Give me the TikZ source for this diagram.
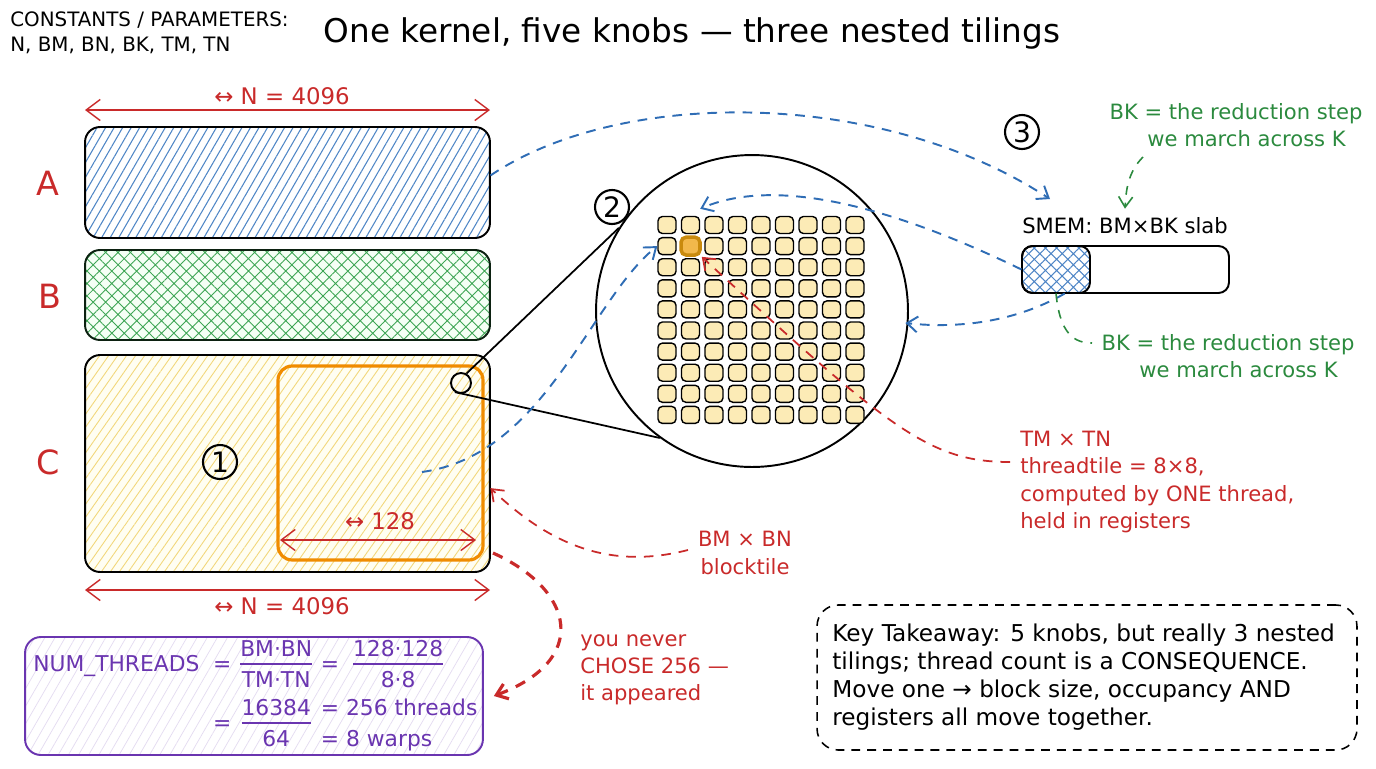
\documentclass[tikz,border=0pt]{standalone}
\usepackage{fontspec}
\setmainfont{DejaVu Sans}
\usetikzlibrary{arrows.meta,patterns.meta,positioning}
\definecolor{ablue}{HTML}{2F6DB5}
\definecolor{hblue}{HTML}{4F86C6}
\definecolor{bgreen}{HTML}{3DA554}
\definecolor{tgreen}{HTML}{2B8A3E}
\definecolor{kred}{HTML}{C92A2A}
\definecolor{korange}{HTML}{F08C00}
\definecolor{hyel}{HTML}{F2D77A}
\definecolor{cellyel}{HTML}{FCEBB6}
\definecolor{hotfill}{HTML}{F2B84B}
\definecolor{hotedge}{HTML}{C98A0D}
\definecolor{kpurple}{HTML}{6A35B0}
\newcommand{\fr}[2]{\begin{tabular}{@{}c@{}}#1\\[-1pt]\hline\rule{0pt}{13pt}#2\end{tabular}}
\begin{document}
\begin{tikzpicture}[x=0.02cm, y=-0.02cm, every node/.style={align=center, inner sep=0pt}]
\tikzset{
  matbox/.style={draw=black, line width=1.1pt, rounded corners=8.5pt, minimum width=8.1cm},
  numcirc/.style={draw, circle, line width=1.2pt, minimum size=0.68cm, font=\fontsize{16}{18}\selectfont},
  cell/.style={draw=black, line width=0.8pt, fill=cellyel, rounded corners=2.5pt, minimum width=0.36cm, minimum height=0.34cm},
  hotbox/.style={draw=hotedge, line width=2pt, fill=hotfill, rounded corners=3pt, minimum width=0.38cm, minimum height=0.36cm},
  matlbl/.style={text=kred, font=\fontsize{19}{22}\selectfont},
  dimarr/.style={kred, line width=0.8pt, {Straight Barb[length=8pt,width=12pt]}-{Straight Barb[length=8pt,width=12pt]}},
  dimlbl/.style={text=kred, font=\fontsize{13}{15}\selectfont},
  flowarr/.style={ablue, line width=1.1pt, dash pattern=on 5.5pt off 4.5pt, -{Straight Barb[length=6pt,width=9pt]}},
  notearr/.style={kred, line width=1pt, dash pattern=on 5.5pt off 4.5pt, -{Straight Barb[length=6pt,width=9pt]}},
  greenarr/.style={tgreen, line width=0.9pt, dash pattern=on 5pt off 4.5pt},
  note/.style={font=\fontsize{12}{15.5}\selectfont},
  smalltxt/.style={align=left, font=\fontsize{11.3}{14.5}\selectfont}
}
\useasboundingbox (0,0) rectangle (1376,768);

% Header
\node[smalltxt, anchor=west] (consts) at (10,33) {CONSTANTS / PARAMETERS:\\N, BM, BN, BK, TM, TN};
\node[font=\fontsize{18.6}{22}\selectfont] (title) at (692,33) {One kernel, five knobs — three nested tilings};

% Matrices A, B, C
\node[matbox, minimum height=2.22cm, preaction={fill=white}, pattern={Lines[angle=60,distance=4.2pt,line width=0.6pt]}, pattern color=hblue] (A) at (287.5,182.5) {};
\node[matbox, draw=black!80!bgreen, minimum height=1.8cm, preaction={fill=green!4}, pattern={Hatch[angle=45,distance=5pt,line width=0.5pt]}, pattern color=bgreen] (B) at (287.5,295) {};
\node[matbox, minimum height=4.34cm, preaction={fill=yellow!5}, pattern={Lines[angle=55,distance=4.2pt,line width=0.5pt]}, pattern color=hyel] (C) at (287.5,463.5) {};
\node[draw=korange, line width=1.8pt, rounded corners=8pt, minimum width=4.1cm, minimum height=3.88cm] (blk) at (380.5,463) {};

\node[matlbl] (lblA) at (48,183) {A};
\node[matlbl] (lblB) at (50,296) {B};
\node[matlbl] (lblC) at (48,462) {C};
\node[numcirc] (n1) at (220,462) {1};

% Dimensions
\coordinate (dtl) at (85,110);
\coordinate (dtr) at (490,110);
\draw[dimarr] (dtl) -- (dtr);
\node[dimlbl] (dimtop) at (282,96) {↔ N = 4096};
\coordinate (dbl) at (85,590);
\coordinate (dbr) at (490,590);
\draw[dimarr] (dbl) -- (dbr);
\node[dimlbl] (dimbot) at (282,606) {↔ N = 4096};
\coordinate (dil) at (280,540);
\coordinate (dir) at (476,540);
\draw[dimarr] (dil) -- (dir);
\node[dimlbl] (dimblk) at (380,521) {↔ 128};

% Zoom circle with thread grid
\node[draw, circle, line width=1.1pt, minimum size=0.4cm] (pick) at (461,383) {};
\node[draw, circle, line width=1.1pt, minimum size=6.24cm] (zoomc) at (752,311) {};
\draw[line width=1pt] (pick.60) -- (zoomc.148);
\draw[line width=1pt] (pick.236) -- (zoomc.234);
\node[numcirc] (n2) at (612,207) {2};
\foreach \i in {0,...,8}
  \foreach \j in {0,...,9}
    \node[cell] (c-\i-\j) at ({667+23.5*\i},{225+21.1*\j}) {};
\node[hotbox] (hot) at (c-1-1.center) {};

% SMEM slab
\node[numcirc] (n3) at (1022,132) {3};
\node[font=\fontsize{12}{14}\selectfont] (smemlbl) at (1125,226) {SMEM: BM×BK slab};
\node[draw, line width=1.1pt, rounded corners=6pt, minimum width=4.14cm, minimum height=0.94cm] (slab) at (1125.5,269.5) {};
\node[draw, line width=1.1pt, rounded corners=6pt, minimum width=1.36cm, minimum height=0.94cm, pattern={Hatch[angle=45,distance=4.5pt,line width=0.6pt]}, pattern color=hblue] (slabhot) at (1056,269.5) {};

% Notes
\node[note, text=tgreen] (bktop) at (1236,125) {BK = the reduction step\\\hspace*{12pt}we march across K};
\node[note, text=tgreen] (bkbot) at (1228,356) {BK = the reduction step\\\hspace*{12pt}we march across K};
\node[note, text=kred, align=left, anchor=west] (thr) at (1020,482) {TM × TN\\threadtile = 8×8,\\computed by ONE thread,\\held in registers};
\node[note, text=kred] (blktxt) at (745,553) {BM × BN\\blocktile};
\node[note, text=kred, align=left, anchor=west] (never) at (580,670) {you never\\CHOSE 256 —\\it appeared};

% Formula box
\node[draw=kpurple, line width=1.1pt, rounded corners=9pt, minimum width=9.16cm, minimum height=2.36cm, preaction={fill=white}, pattern={Lines[angle=60,distance=5pt,line width=0.4pt]}, pattern color=kpurple!18] (fbox) at (254,696) {};
\node[text=kpurple, font=\fontsize{12.4}{15}\selectfont, anchor=west] (formula) at (33,696) {\setlength{\arrayrulewidth}{0.9pt}\renewcommand{\arraystretch}{1.05}%
\begin{tabular}{@{}r@{\hspace{5pt}}c@{\hspace{5pt}}l@{}}
NUM\_THREADS \ = & \fr{BM·BN}{TM·TN} & = \ \fr{128·128}{8·8}\\[3pt]
= & \fr{16384}{64} & \begin{tabular}{@{}l@{}}= 256 threads\\[2pt]= 8 warps\end{tabular}
\end{tabular}};

% Takeaway
\node[draw, line width=0.9pt, dash pattern=on 5pt off 4pt, rounded corners=12pt, minimum width=10.8cm, minimum height=2.9cm] (take) at (1087,677.5) {};
\node[align=left, anchor=west, font=\fontsize{13.2}{15.9}\selectfont] (taketxt) at (832,677) {Key Takeaway: 5 knobs, but really 3 nested\\tilings; thread count is a CONSEQUENCE.\\Move one → block size, occupancy AND\\registers all move together.};

% Data flow
\coordinate (smemin) at (1050,199);
\coordinate (cin) at (422,472);
\draw[flowarr] ([yshift=4pt]A.east) .. controls (620,88) and (880,88) .. (smemin);
\draw[flowarr] (slabhot.west) .. controls (930,225) and (790,170) .. ([yshift=4pt]c-1-0.north east);
\draw[flowarr] (slabhot.-70) .. controls (1010,325) and (950,328) .. ([xshift=-2pt]zoomc.east |- 0,323);
\draw[flowarr] (cin) .. controls (545,455) and (590,300) .. (c-0-1.west);

% Annotations
\coordinate (tmstart) at (1010,462);
\coordinate (blkstart) at (688,550);
\coordinate (blkout) at (493,553);
\draw[notearr] (tmstart) .. controls (930,462) and (890,430) .. (hot.south east);
\draw[notearr] (blkstart) .. controls (610,570) and (550,545) .. ([yshift=-14pt]C.east);
\draw[notearr, line width=1.8pt, dash pattern=on 6pt off 5pt] (blkout) .. controls (575,590) and (590,660) .. ([xshift=6pt]fbox.east);
\coordinate (bkin) at (1143,157);
\coordinate (bkend) at (1092,343);
\draw[greenarr, -{Straight Barb[length=6pt,width=8pt]}] (bkin) .. controls (1128,172) and (1126,190) .. ([yshift=5pt]smemlbl.north);
\draw[greenarr] (slabhot.south) .. controls (1060,335) and (1075,343) .. (bkend);
\end{tikzpicture}
\end{document}
